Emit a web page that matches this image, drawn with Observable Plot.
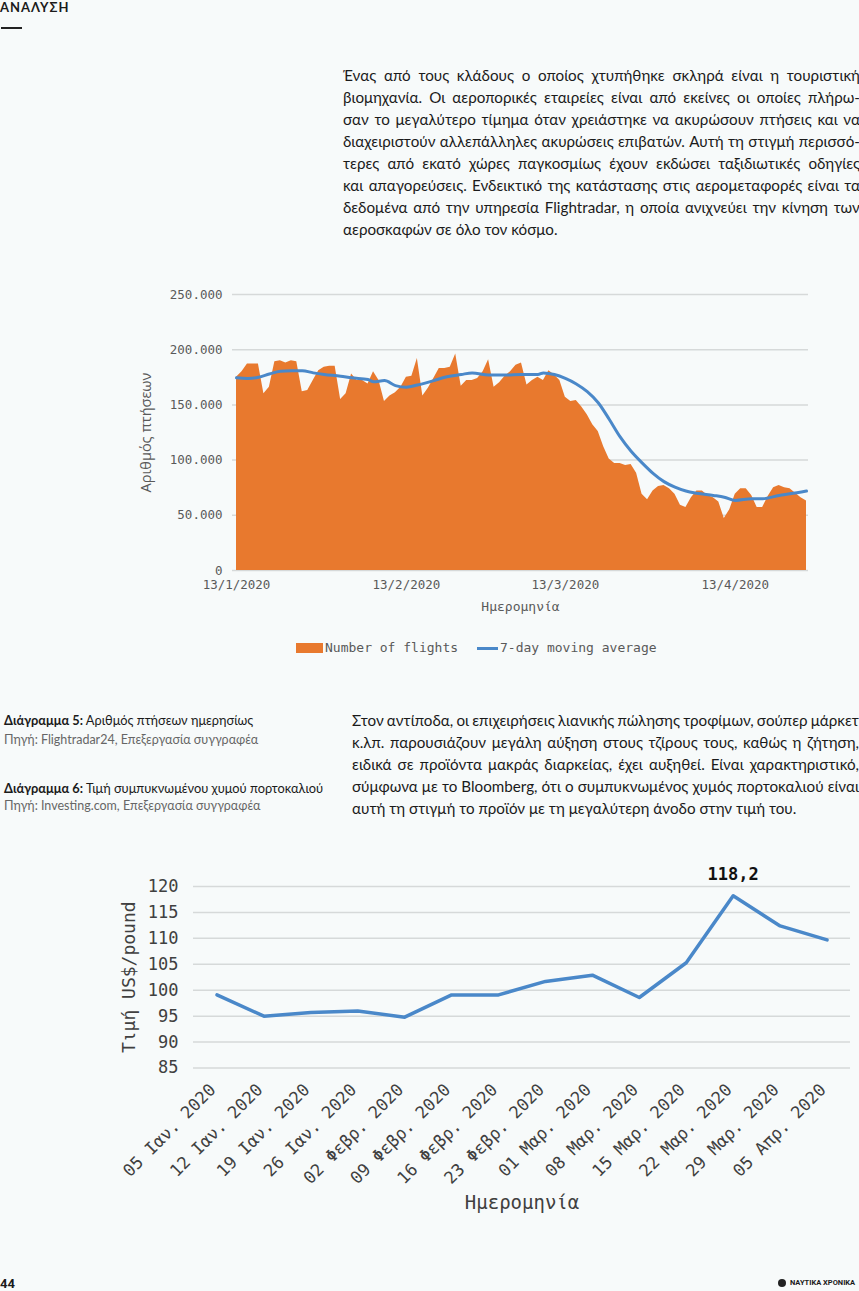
<!DOCTYPE html>
<html><head><meta charset="utf-8">
<script src="https://cdn.jsdelivr.net/npm/d3@7"></script>
<script src="https://cdn.jsdelivr.net/npm/@observablehq/plot@0.6"></script>
<style>
html,body{margin:0;padding:0;}
body{width:859px;height:1291px;position:relative;overflow:hidden;background:#f7fafa;font-family:Lato,"Open Sans",sans-serif;color:#1b1b1b;}
.abs{position:absolute;}
.para{position:absolute;font-size:15.2px;line-height:22px;}
.line{display:flex;justify-content:space-between;height:22px;white-space:nowrap;}
.line.last{justify-content:flex-start;}
.cap{position:absolute;left:4px;font-size:12.8px;line-height:18px;white-space:nowrap;}
.cap b{font-weight:700;}
.src{color:#666;font-size:12.5px;}
.mono{font-family:"DejaVu Sans Mono",monospace;}
svg{overflow:visible;}
</style></head>
<body>
<div class="abs" style="left:0;top:0;font-weight:700;font-size:13px;line-height:14px;letter-spacing:1px">ΑΝΑΛΥΣΗ</div>
<div class="abs" style="left:1px;top:27px;width:21px;height:2px;background:#222"></div>

<div id="p1" class="para" style="left:343px;top:64px;width:517px"></div>

<div id="chart1" class="abs" style="left:130px;top:280px"></div>
<div class="abs" style="left:296px;top:643px;width:27px;height:10px;background:#e8792e"></div>
<div id="leg1" class="abs mono" style="left:325px;top:640px;font-size:13px;line-height:16px;color:#595959"></div>
<div class="abs" style="left:477px;top:647px;width:21px;height:3px;background:#4a88c9"></div>
<div id="leg2" class="abs mono" style="left:500px;top:640px;font-size:13px;line-height:16px;color:#595959"></div>

<div class="cap" style="top:711px"><b>Διάγραμμα 5:</b> Αριθμός πτήσεων ημερησίως</div>
<div class="cap src" style="top:731px">Πηγή: Flightradar24, Επεξεργασία συγγραφέα</div>
<div class="cap" style="top:779px"><b>Διάγραμμα 6:</b> Τιμή συμπυκνωμένου χυμού πορτοκαλιού</div>
<div class="cap src" style="top:797px">Πηγή: Investing.com, Επεξεργασία συγγραφέα</div>

<div id="p2" class="para" style="left:352px;top:709px;width:507px"></div>

<div id="chart2" class="abs" style="left:60px;top:860px"></div>

<div class="abs" style="left:0;top:1276px;font-family:Roboto,sans-serif;font-weight:700;font-size:13px">44</div>
<div class="abs" style="left:778px;top:1279px;width:8px;height:8px;border-radius:50%;background:#222"></div>
<div class="abs" style="left:790px;top:1278px;font-family:Roboto,sans-serif;font-weight:700;font-size:7.5px;line-height:10px;white-space:nowrap">ΝΑΥΤΙΚΑ ΧΡΟΝΙΚΑ</div>

<script>
// ---------- text ----------
const para1Lines = [
  "Ένας από τους κλάδους ο οποίος χτυπήθηκε σκληρά είναι η τουριστική",
  "βιομηχανία. Οι αεροπορικές εταιρείες είναι από εκείνες οι οποίες πλήρω-",
  "σαν το μεγαλύτερο τίμημα όταν χρειάστηκε να ακυρώσουν πτήσεις και να",
  "διαχειριστούν αλλεπάλληλες ακυρώσεις επιβατών. Αυτή τη στιγμή περισσό-",
  "τερες από εκατό χώρες παγκοσμίως έχουν εκδώσει ταξιδιωτικές οδηγίες",
  "και απαγορεύσεις. Ενδεικτικό της κατάστασης στις αερομεταφορές είναι τα",
  "δεδομένα από την υπηρεσία Flightradar, η οποία ανιχνεύει την κίνηση των",
  "αεροσκαφών σε όλο τον κόσμο."
];
const para2Lines = [
  "Στον αντίποδα, οι επιχειρήσεις λιανικής πώλησης τροφίμων, σούπερ μάρκετ",
  "κ.λπ. παρουσιάζουν μεγάλη αύξηση στους τζίρους τους, καθώς η ζήτηση,",
  "ειδικά σε προϊόντα μακράς διαρκείας, έχει αυξηθεί. Είναι χαρακτηριστικό,",
  "σύμφωνα με το Bloomberg, ότι ο συμπυκνωμένος χυμός πορτοκαλιού είναι",
  "αυτή τη στιγμή το προϊόν με τη μεγαλύτερη άνοδο στην τιμή του."
];

// ---------- chart 1 data ----------
const flightStart = "2020-01-13";
const flightCounts = [
  175000,180000,187000,187000,187000,160000,166000,189000,190000,188000,
  190000,189000,162000,163000,172000,181000,184000,185000,185000,155000,
  160000,178000,172000,172000,169000,180000,172000,153000,158000,161000,
  166000,175000,176000,192000,158000,165000,174000,183000,183000,184000,
  196000,167000,172000,172000,174000,180000,191000,166000,170000,176000,
  180000,186000,188000,168000,172000,175000,172000,181000,177000,172000,
  157000,153000,154000,148000,141000,132000,126000,112000,101000,97000,
  97000,95000,96000,88000,69000,64000,72000,76000,77000,74000,
  69000,59000,57000,66000,72000,72000,68000,66000,62000,47000,
  55000,69000,74000,74000,68000,57000,57000,67000,75000,77000,
  75000,74000,70000,66000,63000
];
const maDayOffsets = [0,2,4,6,8,10,12,14,16,19,21,24,25,27,29,31,33,36,38,41,43,46,49,52,55,56,58,60,62,64,66,68,70,72,74,76,78,80,82,84,87,89,91,94,96,99,101,104];
const maValues = [174500,174000,175000,178000,180500,181000,181000,179000,177500,176000,174500,173000,171000,172000,167500,166000,168000,172000,175000,177500,179000,177000,177000,177500,177500,179000,177500,174000,169000,162000,152000,137000,121000,108000,97500,88000,80500,75500,72000,70000,68000,66400,63500,65000,65000,68000,69500,72000];
const flightTickDates = ["2020-01-13","2020-02-13","2020-03-13","2020-04-13"];
const flightYTicks = [0,50000,100000,150000,200000,250000];
const flightSeriesNames = ["Number of flights","7-day moving average"];
const flightYLabel = "Αριθμός πτήσεων";
const flightXLabel = "Ημερομηνία";

// ---------- chart 2 data ----------
const priceWeeks = ["05 Ιαν. 2020","12 Ιαν. 2020","19 Ιαν. 2020","26 Ιαν. 2020","02 Φεβρ. 2020","09 Φεβρ. 2020","16 Φεβρ. 2020","23 Φεβρ. 2020","01 Μαρ. 2020","08 Μαρ. 2020","15 Μαρ. 2020","22 Μαρ. 2020","29 Μαρ. 2020","05 Απρ. 2020"];
const prices = [99.1,95.0,95.7,96.0,94.8,99.1,99.1,101.7,102.9,98.6,105.3,118.2,112.4,109.7];
const priceYTicks = [85,90,95,100,105,110,115,120];
const pricePeakIndex = 11;
const priceYLabel = "Τιμή US$/pound";
const priceXLabel = "Ημερομηνία";

// ---------- render text ----------
function renderPara(id, lines) {
  const el = document.getElementById(id);
  lines.forEach((ln, i) => {
    const row = document.createElement("div");
    row.className = "line" + (i === lines.length - 1 ? " last" : "");
    if (i === lines.length - 1) { row.textContent = ln; }
    else ln.split(" ").forEach(w => { const s = document.createElement("span"); s.textContent = w; row.appendChild(s); });
    el.appendChild(row);
  });
}
renderPara("p1", para1Lines);
renderPara("p2", para2Lines);
document.getElementById("leg1").textContent = flightSeriesNames[0];
document.getElementById("leg2").textContent = flightSeriesNames[1];

const grLocale = d3.formatLocale({decimal: ",", thousands: ".", grouping: [3], currency: ["", "€"]});
const fmtThousands = grLocale.format(",d");
const fmtDecimal = grLocale.format(".1f");

// ---------- chart 1 ----------
const start = new Date(flightStart);
const flights = flightCounts.map((v, i) => ({date: d3.utcDay.offset(start, i), value: v}));
const ma = maDayOffsets.map((o, i) => ({date: d3.utcDay.offset(start, o), value: maValues[i]}));

const chart1 = Plot.plot({
  width: 690, height: 340,
  marginLeft: 102, marginRight: 12, marginTop: 14, marginBottom: 50,
  style: {fontFamily: "DejaVu Sans Mono, monospace", fontSize: "12.5px", color: "#595959", background: "transparent"},
  x: {type: "utc", range: [106, 676]},
  y: {domain: [0, 250000]},
  marks: [
    Plot.gridY(flightYTicks, {stroke: "#d6d9d9", strokeOpacity: 1, strokeWidth: 1.5}),
    Plot.areaY(flights, {x: "date", y: "value", fill: "#e8792e"}),
    Plot.lineY(ma, {x: "date", y: "value", stroke: "#4a88c9", strokeWidth: 3, curve: "monotone-x"}),
    Plot.axisY({ticks: flightYTicks, tickFormat: fmtThousands, tickSize: 0, tickPadding: 10, label: null}),
    Plot.axisX({ticks: flightTickDates.map(s => new Date(s)), tickFormat: d => `${d.getUTCDate()}/${d.getUTCMonth() + 1}/${d.getUTCFullYear()}`, tickSize: 0, tickPadding: 10, label: null}),
    Plot.text([flightYLabel], {frameAnchor: "left", textAnchor: "middle", dx: -86, rotate: -90, fontFamily: "Open Sans, sans-serif", fontSize: 14.5, fill: "#595959"}),
    Plot.text([flightXLabel], {frameAnchor: "bottom", dy: 40, fontSize: 13, fill: "#595959"})
  ]
});
document.getElementById("chart1").appendChild(chart1);

// ---------- chart 2 ----------
const priceData = priceWeeks.map((w, i) => ({week: w, price: prices[i]}));
const chart2 = Plot.plot({
  width: 799, height: 370,
  marginLeft: 133, marginRight: 9, marginTop: 26, marginBottom: 162.5,
  style: {fontFamily: "DejaVu Sans Mono, monospace", fontSize: "17px", color: "#404040", background: "transparent"},
  x: {type: "point", domain: priceWeeks, round: false, padding: 0.5},
  y: {domain: [85, 120]},
  marks: [
    Plot.gridY(priceYTicks, {stroke: "#d6d9d9", strokeOpacity: 1, strokeWidth: 1.5}),
    Plot.line(priceData, {x: "week", y: "price", stroke: "#4a88c9", strokeWidth: 3.5}),
    Plot.text([priceData[pricePeakIndex]], {x: "week", y: "price", text: d => fmtDecimal(d.price), dy: -21, fontWeight: "bold", fontSize: 17, fill: "#111"}),
    Plot.axisY({ticks: priceYTicks, tickSize: 0, tickPadding: 15, label: null, fontSize: 17}),
    Plot.axisX({tickRotate: -45, tickSize: 0, tickPadding: 19, dx: -4, label: null}),
    Plot.text([priceYLabel], {frameAnchor: "left", textAnchor: "middle", dx: -64.5, rotate: -90, fontSize: 18, fill: "#404040"}),
    Plot.text([priceXLabel], {frameAnchor: "bottom", dy: 140.5, fontSize: 19, fill: "#404040"})
  ]
});
document.getElementById("chart2").appendChild(chart2);
</script>
</body></html>
